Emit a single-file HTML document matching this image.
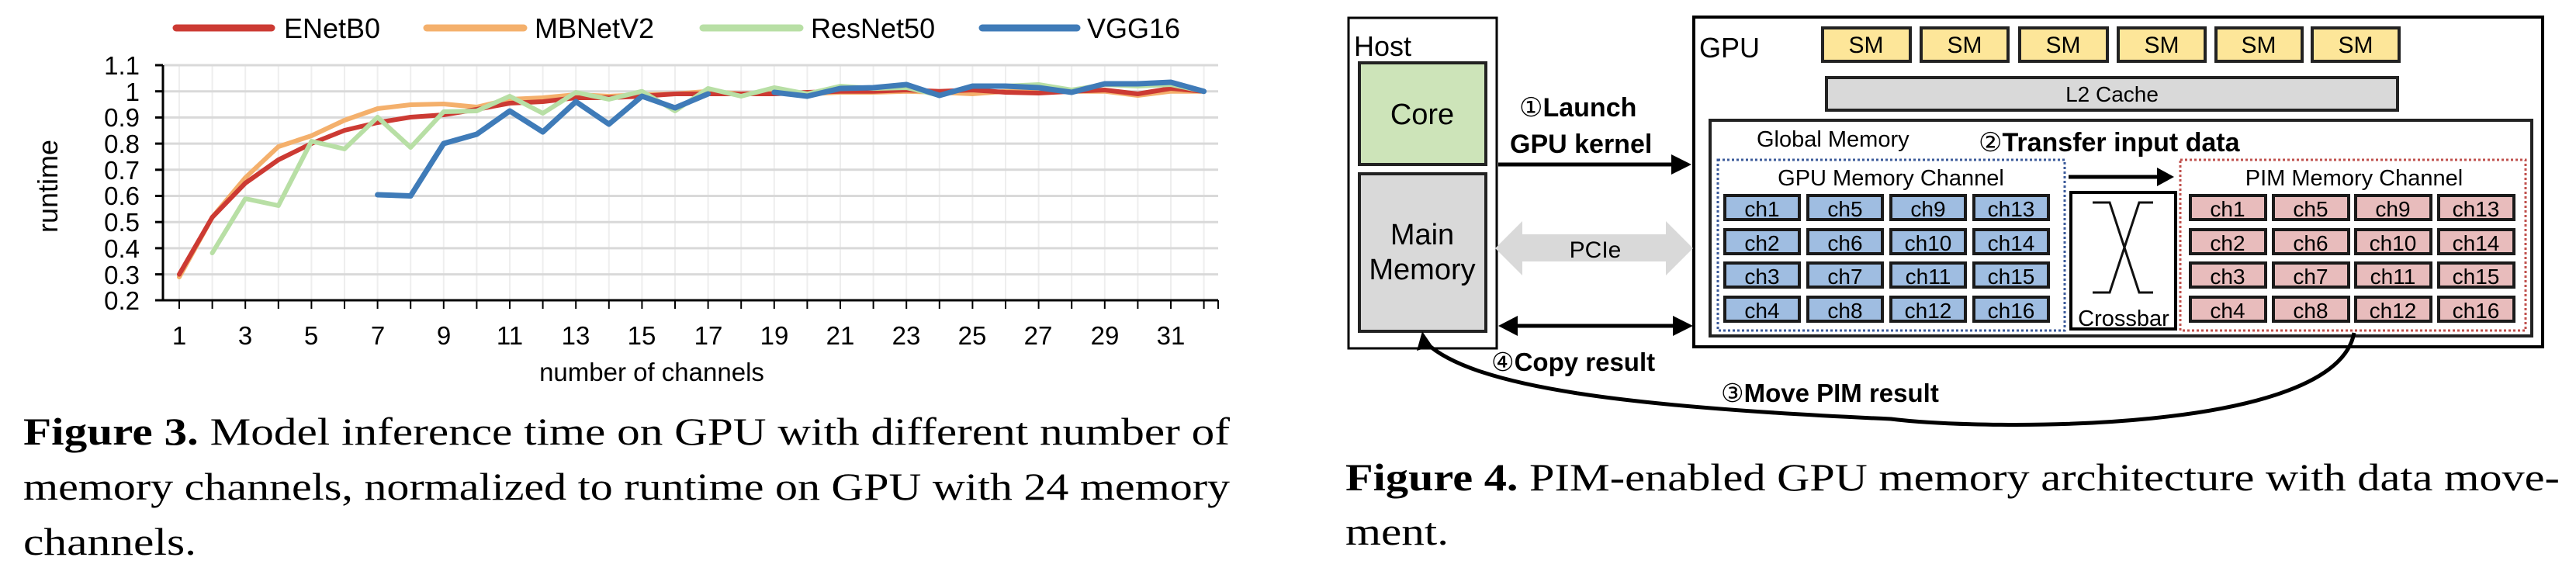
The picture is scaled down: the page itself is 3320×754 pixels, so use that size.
<!DOCTYPE html>
<html><head><meta charset="utf-8"><style>
html,body{margin:0;padding:0;background:#fff;}
svg{display:block;}
text{font-family:"Liberation Sans",sans-serif;}
.serif text, .serif tspan{font-family:"Liberation Serif",serif;}
</style></head><body>
<svg width="3320" height="754" viewBox="0 0 3320 754" xmlns="http://www.w3.org/2000/svg">
<g id="chart">
<g stroke="#eeeeee" stroke-width="2">
<line x1="231" y1="84" x2="231" y2="387"/><line x1="273.6" y1="84" x2="273.6" y2="387"/><line x1="316.2" y1="84" x2="316.2" y2="387"/><line x1="358.8" y1="84" x2="358.8" y2="387"/><line x1="401.4" y1="84" x2="401.4" y2="387"/><line x1="444" y1="84" x2="444" y2="387"/><line x1="486.6" y1="84" x2="486.6" y2="387"/><line x1="529.2" y1="84" x2="529.2" y2="387"/><line x1="571.8" y1="84" x2="571.8" y2="387"/><line x1="614.4" y1="84" x2="614.4" y2="387"/><line x1="657" y1="84" x2="657" y2="387"/><line x1="699.6" y1="84" x2="699.6" y2="387"/><line x1="742.2" y1="84" x2="742.2" y2="387"/><line x1="784.8" y1="84" x2="784.8" y2="387"/><line x1="827.4" y1="84" x2="827.4" y2="387"/><line x1="870" y1="84" x2="870" y2="387"/><line x1="912.6" y1="84" x2="912.6" y2="387"/><line x1="955.2" y1="84" x2="955.2" y2="387"/><line x1="997.8" y1="84" x2="997.8" y2="387"/><line x1="1040.4" y1="84" x2="1040.4" y2="387"/><line x1="1083" y1="84" x2="1083" y2="387"/><line x1="1125.6" y1="84" x2="1125.6" y2="387"/><line x1="1168.2" y1="84" x2="1168.2" y2="387"/><line x1="1210.8" y1="84" x2="1210.8" y2="387"/><line x1="1253.4" y1="84" x2="1253.4" y2="387"/><line x1="1296" y1="84" x2="1296" y2="387"/><line x1="1338.6" y1="84" x2="1338.6" y2="387"/><line x1="1381.2" y1="84" x2="1381.2" y2="387"/><line x1="1423.8" y1="84" x2="1423.8" y2="387"/><line x1="1466.4" y1="84" x2="1466.4" y2="387"/><line x1="1509" y1="84" x2="1509" y2="387"/><line x1="1551.6" y1="84" x2="1551.6" y2="387"/>
</g>
<g stroke="#d9d9d9" stroke-width="3">
<line x1="210" y1="84" x2="1570" y2="84"/><line x1="210" y1="117.7" x2="1570" y2="117.7"/><line x1="210" y1="151.4" x2="1570" y2="151.4"/><line x1="210" y1="185.1" x2="1570" y2="185.1"/><line x1="210" y1="218.8" x2="1570" y2="218.8"/><line x1="210" y1="252.5" x2="1570" y2="252.5"/><line x1="210" y1="286.2" x2="1570" y2="286.2"/><line x1="210" y1="319.9" x2="1570" y2="319.9"/><line x1="210" y1="353.6" x2="1570" y2="353.6"/>
</g>
<g stroke="#000" stroke-width="3">
<line x1="210" y1="84" x2="210" y2="388"/><line x1="200" y1="387" x2="1570" y2="387"/>
<line x1="200" y1="84" x2="210" y2="84"/><line x1="200" y1="117.7" x2="210" y2="117.7"/><line x1="200" y1="151.4" x2="210" y2="151.4"/><line x1="200" y1="185.1" x2="210" y2="185.1"/><line x1="200" y1="218.8" x2="210" y2="218.8"/><line x1="200" y1="252.5" x2="210" y2="252.5"/><line x1="200" y1="286.2" x2="210" y2="286.2"/><line x1="200" y1="319.9" x2="210" y2="319.9"/><line x1="200" y1="353.6" x2="210" y2="353.6"/>
</g>
<g stroke="#000" stroke-width="2">
<line x1="231" y1="387" x2="231" y2="398"/><line x1="273.6" y1="387" x2="273.6" y2="398"/><line x1="316.2" y1="387" x2="316.2" y2="398"/><line x1="358.8" y1="387" x2="358.8" y2="398"/><line x1="401.4" y1="387" x2="401.4" y2="398"/><line x1="444" y1="387" x2="444" y2="398"/><line x1="486.6" y1="387" x2="486.6" y2="398"/><line x1="529.2" y1="387" x2="529.2" y2="398"/><line x1="571.8" y1="387" x2="571.8" y2="398"/><line x1="614.4" y1="387" x2="614.4" y2="398"/><line x1="657" y1="387" x2="657" y2="398"/><line x1="699.6" y1="387" x2="699.6" y2="398"/><line x1="742.2" y1="387" x2="742.2" y2="398"/><line x1="784.8" y1="387" x2="784.8" y2="398"/><line x1="827.4" y1="387" x2="827.4" y2="398"/><line x1="870" y1="387" x2="870" y2="398"/><line x1="912.6" y1="387" x2="912.6" y2="398"/><line x1="955.2" y1="387" x2="955.2" y2="398"/><line x1="997.8" y1="387" x2="997.8" y2="398"/><line x1="1040.4" y1="387" x2="1040.4" y2="398"/><line x1="1083" y1="387" x2="1083" y2="398"/><line x1="1125.6" y1="387" x2="1125.6" y2="398"/><line x1="1168.2" y1="387" x2="1168.2" y2="398"/><line x1="1210.8" y1="387" x2="1210.8" y2="398"/><line x1="1253.4" y1="387" x2="1253.4" y2="398"/><line x1="1296" y1="387" x2="1296" y2="398"/><line x1="1338.6" y1="387" x2="1338.6" y2="398"/><line x1="1381.2" y1="387" x2="1381.2" y2="398"/><line x1="1423.8" y1="387" x2="1423.8" y2="398"/><line x1="1466.4" y1="387" x2="1466.4" y2="398"/><line x1="1509" y1="387" x2="1509" y2="398"/><line x1="1551.6" y1="387" x2="1551.6" y2="398"/><line x1="1570" y1="387" x2="1570" y2="398"/>
</g>
<g font-size="33" text-anchor="end" fill="#000">
<text x="180" y="96">1.1</text><text x="180" y="130">1</text><text x="180" y="163">0.9</text><text x="180" y="197">0.8</text><text x="180" y="231">0.7</text><text x="180" y="264">0.6</text><text x="180" y="298">0.5</text><text x="180" y="332">0.4</text><text x="180" y="366">0.3</text><text x="180" y="399">0.2</text>
</g>
<g font-size="33" text-anchor="middle" fill="#000">
<text x="231" y="444">1</text><text x="316" y="444">3</text><text x="401" y="444">5</text><text x="487" y="444">7</text><text x="572" y="444">9</text><text x="657" y="444">11</text><text x="742" y="444">13</text><text x="827" y="444">15</text><text x="913" y="444">17</text><text x="998" y="444">19</text><text x="1083" y="444">21</text><text x="1168" y="444">23</text><text x="1253" y="444">25</text><text x="1338" y="444">27</text><text x="1424" y="444">29</text><text x="1509" y="444">31</text>
</g>
<text x="840" y="491" font-size="33" text-anchor="middle">number of channels</text>
<text transform="translate(74,240) rotate(-90)" font-size="36" text-anchor="middle">runtime</text>
<g fill="none" stroke-linejoin="round" stroke-linecap="round">
<polyline stroke="#f4b06c" stroke-width="6" points="231,357 273.6,280 316.2,229 358.8,189 401.4,175 444,155 486.6,140 529.2,135 571.8,134 614.4,138 657,128 699.6,126 742.2,122 784.8,124 827.4,122 870,121 912.6,117.7 955.2,121 997.8,119 1040.4,121 1083,119 1125.6,119 1168.2,117.7 1210.8,119 1253.4,121 1296,117.7 1338.6,117.7 1381.2,117.7 1423.8,117.7 1466.4,123 1509,117.7 1551.6,117.7"/>
<polyline stroke="#cc3a33" stroke-width="6" points="231,353.6 273.6,280 316.2,236 358.8,206 401.4,185 444,168 486.6,158 529.2,151 571.8,148 614.4,141 657,133 699.6,131 742.2,126 784.8,126 827.4,124 870,121 912.6,121 955.2,121 997.8,121 1040.4,119 1083,117.7 1125.6,117.7 1168.2,116 1210.8,117.7 1253.4,116 1296,119 1338.6,120 1381.2,117.7 1423.8,116 1466.4,121 1509,114 1551.6,117.7"/>
<polyline stroke="#b8dfa5" stroke-width="6" points="273.6,326 316.2,256 358.8,265 401.4,182 444,192 486.6,151 529.2,190 571.8,144 614.4,143 657,124 699.6,146 742.2,119 784.8,128 827.4,117.7 870,143 912.6,114 955.2,124 997.8,113 1040.4,121 1083,111 1125.6,114 1168.2,113 1210.8,123 1253.4,111 1296,111 1338.6,109 1381.2,116 1423.8,109 1466.4,111 1509,109 1551.6,117.7"/>
<polyline stroke="#3f7bb8" stroke-width="7" points="486.6,251 529.2,252.5 571.8,185 614.4,173 657,143 699.6,170 742.2,131 784.8,160 827.4,124 870,139 912.6,121"/>
<polyline stroke="#3f7bb8" stroke-width="7" points="997.8,119 1040.4,124 1083,114 1125.6,113 1168.2,109 1210.8,123 1253.4,111 1296,111 1338.6,113 1381.2,119 1423.8,108 1466.4,108 1509,106 1551.6,117.7"/>
</g>
<g stroke-width="9" stroke-linecap="round">
<line x1="227" y1="36" x2="350" y2="36" stroke="#cc3a33"/>
<line x1="550" y1="36" x2="675" y2="36" stroke="#f4b06c"/>
<line x1="906" y1="36" x2="1031" y2="36" stroke="#b8dfa5"/>
<line x1="1266" y1="36" x2="1388" y2="36" stroke="#3f7bb8"/>
</g>
<g font-size="36" fill="#000">
<text x="366" y="49">ENetB0</text><text x="689" y="49">MBNetV2</text><text x="1045" y="49">ResNet50</text><text x="1401" y="49">VGG16</text>
</g>
<g class="serif" font-size="50" fill="#000">
<text x="30" y="573" textLength="1555" lengthAdjust="spacingAndGlyphs"><tspan font-weight="bold">Figure 3.</tspan> Model inference time on GPU with different number of</text>
<text x="30" y="644" textLength="1555" lengthAdjust="spacingAndGlyphs">memory channels, normalized to runtime on GPU with 24 memory</text>
<text x="30" y="715" textLength="223" lengthAdjust="spacingAndGlyphs">channels.</text>
</g>
</g>

<g id="diagram">
<rect x="1738" y="23" width="191" height="426" fill="#fff" stroke="#000" stroke-width="3"/>
<text x="1745" y="72" font-size="36">Host</text>
<rect x="1752" y="81" width="163" height="131" fill="#cde4b9" stroke="#222" stroke-width="4"/>
<text x="1833" y="160" font-size="38" text-anchor="middle">Core</text>
<rect x="1752" y="224" width="163" height="203" fill="#d9d9d9" stroke="#222" stroke-width="4"/>
<text x="1833" y="315" font-size="38" text-anchor="middle">Main</text>
<text x="1833" y="360" font-size="38" text-anchor="middle">Memory</text>
<rect x="2183" y="22" width="1094" height="425" fill="#fff" stroke="#000" stroke-width="4"/>
<text x="2190" y="74" font-size="36">GPU</text>
<g fill="#fde699" stroke="#222" stroke-width="4">
<rect x="2349" y="36" width="113" height="43"/><rect x="2476" y="36" width="112" height="43"/><rect x="2603" y="36" width="113" height="43"/><rect x="2730" y="36" width="112" height="43"/><rect x="2856" y="36" width="111" height="43"/><rect x="2980" y="36" width="112" height="43"/>
</g>
<g font-size="30" text-anchor="middle">
<text x="2405" y="68">SM</text><text x="2532" y="68">SM</text><text x="2659" y="68">SM</text><text x="2786" y="68">SM</text><text x="2911" y="68">SM</text><text x="3036" y="68">SM</text>
</g>
<rect x="2354" y="100" width="736" height="42" fill="#d9d9d9" stroke="#222" stroke-width="4"/>
<text x="2722" y="131" font-size="28" text-anchor="middle">L2 Cache</text>
<rect x="2204" y="155" width="1059" height="278" fill="#fff" stroke="#222" stroke-width="4"/>
<text x="2264" y="189" font-size="29">Global Memory</text>
<text x="2550" y="195" font-size="34" font-weight="bold"><tspan font-family="DejaVu Sans" font-weight="normal">②</tspan>Transfer input data</text>
<rect x="2214" y="206" width="447" height="220" fill="none" stroke="#3b5a9a" stroke-width="3" stroke-dasharray="3,3"/>
<text x="2437" y="239" font-size="29" text-anchor="middle">GPU Memory Channel</text>
<rect x="2810" y="206" width="445" height="220" fill="none" stroke="#c0504d" stroke-width="3" stroke-dasharray="3,3"/>
<text x="3034" y="239" font-size="29" text-anchor="middle">PIM Memory Channel</text>
<g fill="#9fbde1" stroke="#1a1a1a" stroke-width="4">
<rect x="2223" y="252" width="96" height="31"/><rect x="2330" y="252" width="96" height="31"/><rect x="2437" y="252" width="96" height="31"/><rect x="2544" y="252" width="96" height="31"/>
<rect x="2223" y="296" width="96" height="31"/><rect x="2330" y="296" width="96" height="31"/><rect x="2437" y="296" width="96" height="31"/><rect x="2544" y="296" width="96" height="31"/>
<rect x="2223" y="339" width="96" height="31"/><rect x="2330" y="339" width="96" height="31"/><rect x="2437" y="339" width="96" height="31"/><rect x="2544" y="339" width="96" height="31"/>
<rect x="2223" y="383" width="96" height="31"/><rect x="2330" y="383" width="96" height="31"/><rect x="2437" y="383" width="96" height="31"/><rect x="2544" y="383" width="96" height="31"/>
</g>
<g font-size="28" text-anchor="middle">
<text x="2271" y="279">ch1</text><text x="2378" y="279">ch5</text><text x="2485" y="279">ch9</text><text x="2592" y="279">ch13</text>
<text x="2271" y="323">ch2</text><text x="2378" y="323">ch6</text><text x="2485" y="323">ch10</text><text x="2592" y="323">ch14</text>
<text x="2271" y="366">ch3</text><text x="2378" y="366">ch7</text><text x="2485" y="366">ch11</text><text x="2592" y="366">ch15</text>
<text x="2271" y="410">ch4</text><text x="2378" y="410">ch8</text><text x="2485" y="410">ch12</text><text x="2592" y="410">ch16</text>
</g>
<g fill="#e8bcbc" stroke="#1a1a1a" stroke-width="4">
<rect x="2823" y="252" width="97" height="31"/><rect x="2930" y="252" width="97" height="31"/><rect x="3036" y="252" width="97" height="31"/><rect x="3143" y="252" width="97" height="31"/>
<rect x="2823" y="296" width="97" height="31"/><rect x="2930" y="296" width="97" height="31"/><rect x="3036" y="296" width="97" height="31"/><rect x="3143" y="296" width="97" height="31"/>
<rect x="2823" y="339" width="97" height="31"/><rect x="2930" y="339" width="97" height="31"/><rect x="3036" y="339" width="97" height="31"/><rect x="3143" y="339" width="97" height="31"/>
<rect x="2823" y="383" width="97" height="31"/><rect x="2930" y="383" width="97" height="31"/><rect x="3036" y="383" width="97" height="31"/><rect x="3143" y="383" width="97" height="31"/>
</g>
<g font-size="28" text-anchor="middle">
<text x="2871" y="279">ch1</text><text x="2978" y="279">ch5</text><text x="3084" y="279">ch9</text><text x="3191" y="279">ch13</text>
<text x="2871" y="323">ch2</text><text x="2978" y="323">ch6</text><text x="3084" y="323">ch10</text><text x="3191" y="323">ch14</text>
<text x="2871" y="366">ch3</text><text x="2978" y="366">ch7</text><text x="3084" y="366">ch11</text><text x="3191" y="366">ch15</text>
<text x="2871" y="410">ch4</text><text x="2978" y="410">ch8</text><text x="3084" y="410">ch12</text><text x="3191" y="410">ch16</text>
</g>
<rect x="2669" y="248" width="135" height="176" fill="#fff" stroke="#000" stroke-width="4"/>
<polyline points="2697,261 2719,261 2757,377 2775,377" fill="none" stroke="#111" stroke-width="3"/>
<polyline points="2697,377 2719,377 2757,261 2775,261" fill="none" stroke="#111" stroke-width="3"/>
<text x="2737" y="420" font-size="29" text-anchor="middle">Crossbar</text>
<line x1="2666" y1="228" x2="2785" y2="228" stroke="#000" stroke-width="5"/>
<polygon points="2780,216 2802,228 2780,240" fill="#000"/>
<text x="1958" y="150" font-size="34" font-weight="bold"><tspan font-family="DejaVu Sans" font-weight="normal">①</tspan>Launch</text>
<text x="1946" y="197" font-size="34" font-weight="bold">GPU kernel</text>
<line x1="1931" y1="212" x2="2160" y2="212" stroke="#000" stroke-width="5"/>
<polygon points="2154,199 2180,212 2154,225" fill="#000"/>
<polygon points="1927,320 1962,285 1962,302 2147,302 2147,285 2182,320 2147,355 2147,337 1962,337 1962,355" fill="#d9d9d9"/>
<text x="2056" y="332" font-size="30" text-anchor="middle">PCIe</text>
<line x1="1950" y1="420" x2="2162" y2="420" stroke="#000" stroke-width="5"/>
<polygon points="1956,407 1931,420 1956,433" fill="#000"/>
<polygon points="2156,407 2182,420 2156,433" fill="#000"/>
<text x="1922" y="478" font-size="33" font-weight="bold"><tspan font-family="DejaVu Sans" font-weight="normal">④</tspan>Copy result</text>
<path d="M3034,429 C3010,560 2560,555 2437,540 C2100,525 1900,500 1838,442" fill="none" stroke="#000" stroke-width="5"/>
<polygon points="1833,427 1826,452 1846,446" fill="#000"/>
<text x="2218" y="518" font-size="33" font-weight="bold"><tspan font-family="DejaVu Sans" font-weight="normal">③</tspan>Move PIM result</text>
<g class="serif" font-size="50" fill="#000">
<text x="1734" y="632" textLength="1565" lengthAdjust="spacingAndGlyphs"><tspan font-weight="bold">Figure 4.</tspan> PIM-enabled GPU memory architecture with data move-</text>
<text x="1734" y="702" textLength="133" lengthAdjust="spacingAndGlyphs">ment.</text>
</g>
</g>
</svg>
</body></html>
